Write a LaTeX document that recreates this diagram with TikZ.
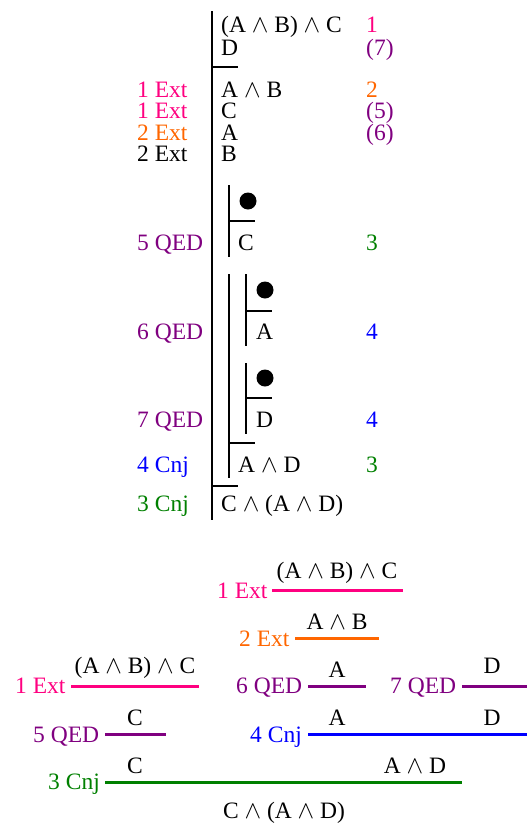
\documentclass[tikz,border=0pt]{standalone}
\usepackage{fontspec}
\setmainfont{Liberation Serif}
\definecolor{cpink}{RGB}{255,0,128}
\definecolor{corange}{RGB}{255,102,0}
\definecolor{cpurple}{RGB}{128,0,128}
\definecolor{cgreen}{RGB}{0,128,0}
\definecolor{cblue}{RGB}{0,0,255}
\newcommand{\andop}{$\wedge$}
\begin{document}
\begin{tikzpicture}[x=1pt,y=-1pt,
  txt/.style={inner sep=0pt, font=\fontsize{23.5}{23.5}\selectfont, text height=15pt, text depth=4pt},
  lt/.style={txt, anchor=base west},
  ct/.style={txt, anchor=base},
  pline/.style={line width=1.9pt},
  rulel/.style={line width=3pt},
  dotn/.style={circle, fill=black, minimum size=17pt, inner sep=0pt}]
\useasboundingbox (0,0) rectangle (527,825);

% ---- Fitch proof: formulas
\node[lt] (f1) at (221,32) {(A \andop{} B) \andop{} C};
\node[lt] (f2) at (221,55) {D};
\node[lt] (f3) at (221,97) {A \andop{} B};
\node[lt] (f4) at (221,118) {C};
\node[lt] (f5) at (221,140) {A};
\node[lt] (f6) at (221,161) {B};
\node[lt] (f7) at (238,250) {C};
\node[lt] (f8) at (256,339) {A};
\node[lt] (f9) at (256,427) {D};
\node[lt] (f10) at (238,472) {A \andop{} D};
\node[lt] (f11) at (221,511) {C \andop{} (A \andop{} D)};

% ---- right numbers
\node[lt, text=cpink] (r1) at (366,32) {1};
\node[lt, text=cpurple] (r2) at (366,55) {(7)};
\node[lt, text=corange] (r3) at (366,97) {2};
\node[lt, text=cpurple] (r4) at (366,118) {(5)};
\node[lt, text=cpurple] (r5) at (366,140) {(6)};
\node[lt, text=cgreen] (r7) at (366,250) {3};
\node[lt, text=cblue] (r8) at (366,339) {4};
\node[lt, text=cblue] (r9) at (366,427) {4};
\node[lt, text=cgreen] (r10) at (366,472) {3};

% ---- left justifications
\node[lt, text=cpink] (l3) at (137,97) {1 Ext};
\node[lt, text=cpink] (l4) at (137,118) {1 Ext};
\node[lt, text=corange] (l5) at (137,140) {2 Ext};
\node[lt] (l6) at (137,161) {2 Ext};
\node[lt, text=cpurple] (l7) at (137,250) {5 QED};
\node[lt, text=cpurple] (l8) at (137,339) {6 QED};
\node[lt, text=cpurple] (l9) at (137,427) {7 QED};
\node[lt, text=cblue] (l10) at (137,472) {4 Cnj};
\node[lt, text=cgreen] (l11) at (137,511) {3 Cnj};

% ---- dots
\node[dotn] (d1) at (248,201) {};
\node[dotn] (d2) at (265,290) {};
\node[dotn] (d3) at (265,378) {};

% ---- proof bars
\draw[pline] (212,11) -- (212,520);
\draw[pline] (212,67) -- (238,67);
\draw[pline] (229,185) -- (229,257);
\draw[pline] (229,221) -- (255,221);
\draw[pline] (229,274) -- (229,478);
\draw[pline] (246,274) -- (246,346);
\draw[pline] (246,311) -- (272,311);
\draw[pline] (246,363) -- (246,434);
\draw[pline] (246,398) -- (272,398);
\draw[pline] (229,443) -- (255,443);
\draw[pline] (212,486) -- (238,486);

% ---- proof tree
% row 1
\node[ct] (t1a) at (337,578) {(A \andop{} B) \andop{} C};
\coordinate (t1l) at (272,590); \coordinate (t1r) at (403,590);
\draw[rulel, cpink] (t1l) -- (t1r);
\node[lt, text=cpink] (t1j) at (217,598) {1 Ext};
% row 2
\node[ct] (t2a) at (337,629) {A \andop{} B};
\coordinate (t2l) at (295,638); \coordinate (t2r) at (379,638);
\draw[rulel, corange] (t2l) -- (t2r);
\node[lt, text=corange] (t2j) at (239,646) {2 Ext};
% row 3
\node[ct] (t3a) at (135,673) {(A \andop{} B) \andop{} C};
\coordinate (t3l) at (71,686); \coordinate (t3r) at (199,686);
\draw[rulel, cpink] (t3l) -- (t3r);
\node[lt, text=cpink] (t3j) at (15,693) {1 Ext};
\node[ct] (t4a) at (337,677) {A};
\coordinate (t4l) at (308,686); \coordinate (t4r) at (366,686);
\draw[rulel, cpurple] (t4l) -- (t4r);
\node[lt, text=cpurple] (t4j) at (236,693) {6 QED};
\node[ct] (t5a) at (492,673) {D};
\coordinate (t5l) at (462,686); \coordinate (t5r) at (527,686);
\draw[rulel, cpurple] (t5l) -- (t5r);
\node[lt, text=cpurple] (t5j) at (390,693) {7 QED};
% row 4
\node[ct] (t6a) at (135,725) {C};
\coordinate (t6l) at (105,734); \coordinate (t6r) at (166,734);
\draw[rulel, cpurple] (t6l) -- (t6r);
\node[lt, text=cpurple] (t6j) at (33,742) {5 QED};
\node[ct] (t7a) at (337,725) {A};
\node[ct] (t7b) at (492,725) {D};
\coordinate (t7l) at (308,734); \coordinate (t7r) at (527,734);
\draw[rulel, cblue] (t7l) -- (t7r);
\node[lt, text=cblue] (t7j) at (250,742) {4 Cnj};
% row 5
\node[ct] (t8a) at (135,773) {C};
\node[ct] (t8b) at (415,773) {A \andop{} D};
\coordinate (t8l) at (105,782); \coordinate (t8r) at (462,782);
\draw[rulel, cgreen] (t8l) -- (t8r);
\node[lt, text=cgreen] (t8j) at (48,789) {3 Cnj};
% conclusion
\node[ct] (t9) at (284,818) {C \andop{} (A \andop{} D)};
\end{tikzpicture}
\end{document}
